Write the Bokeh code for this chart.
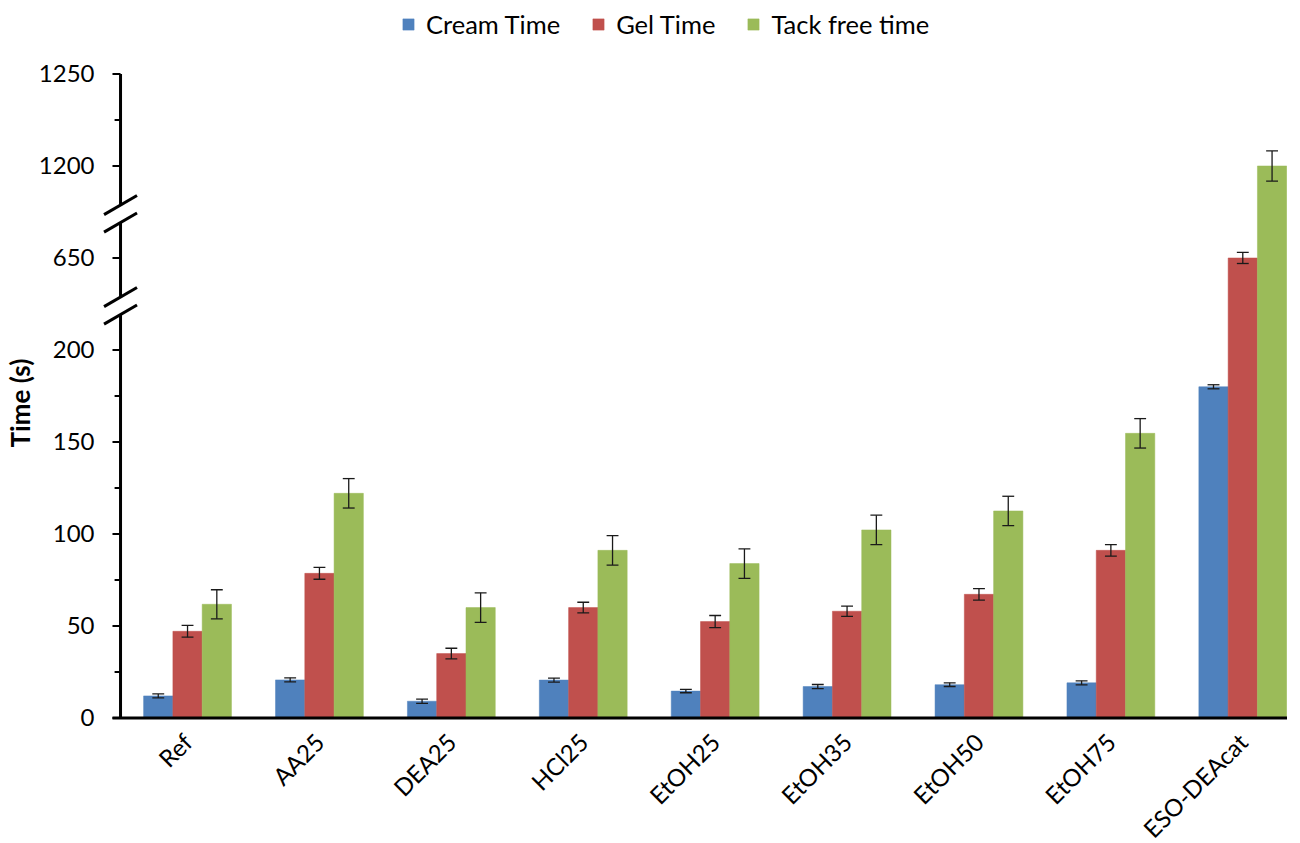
import math
from bokeh.plotting import figure
from bokeh.models import FixedTicker, Legend, LegendItem, Range1d
from bokeh.embed import file_html
from bokeh.resources import INLINE

# ---------------- data ----------------
categories = ["Ref", "AA25", "DEA25", "HCl25", "EtOH25", "EtOH35", "EtOH50", "EtOH75", "ESO-DEAcat"]
cream = [12.0, 20.7, 9.1, 20.6, 14.6, 17.1, 18.1, 19.1, 180.0]
gel = [47.1, 78.6, 35.0, 60.0, 52.4, 58.0, 67.2, 91.1, 650.0]
tack = [61.8, 122.1, 60.0, 91.1, 83.9, 102.2, 112.5, 154.7, 1200.0]
cream_err = [1.1, 1.1, 1.2, 1.1, 0.9, 1.1, 1.0, 1.1, 1.1]
gel_err = [3.2, 3.2, 2.9, 2.9, 3.3, 2.8, 3.1, 3.1, 3.0]
tack_err = [7.9, 8.0, 8.0, 8.0, 8.0, 8.0, 8.0, 8.0, 8.2]
series_names = ["Cream Time", "Gel Time", "Tack free time"]
major_ticks = [0, 50, 100, 150, 200, 650, 1200, 1250]
minor_ticks = [25, 75, 125, 175, 1225]
y_title = "Time (s)"

colors = ["#4F81BD", "#C0504D", "#9BBB59"]
FONT = "Lato"

# broken axis segments: (value low, value high, shift subtracted to get display coordinate)
SEGMENTS = [(0, 224, 0), (624, 674, 400), (1174, 1250, 900)]
BREAKS = [224, 274]  # display positions of the breaks


def to_disp(v):
    for lo, hi, shift in SEGMENTS:
        if lo <= v <= hi:
            return v - shift
    raise ValueError(v)


FRAME_H = 723
Y0, Y1 = -3, FRAME_H / 1.84 - 3
X0, X1 = -0.675, 8.339

p = figure(frame_width=1189, frame_height=FRAME_H, min_border_left=95, min_border_right=0,
           min_border_top=0, min_border_bottom=0,
           x_range=Range1d(X0, X1), y_range=Range1d(Y0, Y1),
           output_backend="svg", toolbar_location=None)
p.outline_line_color = None
p.grid.grid_line_color = None
p.background_fill_color = "white"
p.border_fill_color = "white"

BAR_W = 0.222
CAP = 0.045
renderers = []
for k, (vals, errs) in enumerate(zip([cream, gel, tack], [cream_err, gel_err, tack_err])):
    xs = [i + (k - 1) * BAR_W for i in range(len(categories))]
    tops = [to_disp(v) for v in vals]
    r = p.vbar(x=xs, top=tops, bottom=0, width=BAR_W, fill_color=colors[k],
               line_color=colors[k], line_width=0.5)
    renderers.append(r)
    lo = [to_disp(v - e) for v, e in zip(vals, errs)]
    hi = [to_disp(v + e) for v, e in zip(vals, errs)]
    p.segment(x0=xs, x1=xs, y0=lo, y1=hi, line_color="#1a1a1a", line_width=1.3)
    p.segment(x0=[x - CAP for x in xs], x1=[x + CAP for x in xs], y0=lo, y1=lo,
              line_color="#1a1a1a", line_width=1.3)
    p.segment(x0=[x - CAP for x in xs], x1=[x + CAP for x in xs], y0=hi, y1=hi,
              line_color="#1a1a1a", line_width=1.3)

# ---- hand-drawn axes (broken y axis) ----
AXIS_X = -0.508
TICK_MAJ = 0.061
TICK_MIN = 0.045
GAP = 4.75
top_disp = to_disp(major_ticks[-1])
ys0 = [0] + [b + GAP for b in BREAKS]
ys1 = [b - GAP for b in BREAKS] + [top_disp]
p.segment(x0=[AXIS_X] * 3, x1=[AXIS_X] * 3, y0=ys0, y1=ys1, line_color="black", line_width=3)
# break marks
bx0, bx1, by0, by1 = [], [], [], []
for b in BREAKS:
    for s in (-GAP, GAP):
        bx0.append(AXIS_X - 0.125)
        bx1.append(AXIS_X + 0.125)
        by0.append(b + s - 5.2)
        by1.append(b + s + 5.2)
p.segment(x0=bx0, x1=bx1, y0=by0, y1=by1, line_color="black", line_width=3)
# ticks
mt = [to_disp(t) for t in major_ticks]
p.segment(x0=[AXIS_X - TICK_MAJ] * len(mt), x1=[AXIS_X] * len(mt), y0=mt, y1=mt,
          line_color="black", line_width=2)
nt = [to_disp(t) for t in minor_ticks]
p.segment(x0=[AXIS_X - TICK_MIN] * len(nt), x1=[AXIS_X] * len(nt), y0=nt, y1=nt,
          line_color="black", line_width=2)
# x axis line
p.segment(x0=[AXIS_X - TICK_MAJ], x1=[X1], y0=[0], y1=[0], line_color="black", line_width=3)

# ---- bokeh axes used for labels only ----
ya = p.yaxis[0]
ya.ticker = FixedTicker(ticks=mt)
ya.major_label_overrides = {d: str(t) for d, t in zip(mt, major_ticks)}
ya.axis_line_color = None
ya.major_tick_line_color = None
ya.minor_tick_line_color = None
ya.major_tick_out = 0
ya.major_tick_in = 0
ya.major_label_standoff = 4
ya.major_label_text_font = FONT
ya.major_label_text_font_size = "24px"
ya.major_label_text_color = "black"
# trailing no-break spaces push the centred title down to the middle of the axis
ya.axis_label = y_title + "\u00a0" * 13
ya.axis_label_text_font = FONT
ya.axis_label_text_font_size = "26px"
ya.axis_label_text_font_style = "bold"
ya.axis_label_text_color = "black"
ya.axis_label_standoff = 0

xa = p.xaxis[0]
xa.ticker = FixedTicker(ticks=list(range(len(categories))))
xa.major_label_overrides = {i: c for i, c in enumerate(categories)}
xa.major_label_orientation = math.pi / 4
xa.axis_line_color = None
xa.major_tick_line_color = None
xa.minor_tick_line_color = None
xa.major_tick_out = 0
xa.major_tick_in = 0
xa.major_label_standoff = 14
xa.major_label_text_font = FONT
xa.major_label_text_font_size = "24px"
xa.major_label_text_color = "black"

legend = Legend(items=[LegendItem(label=n, renderers=[r]) for n, r in zip(series_names, renderers)],
                orientation="horizontal", location=(303, 684), margin=0, padding=0,
                spacing=31, label_standoff=11, glyph_width=14, glyph_height=14,
                label_text_font=FONT, label_text_font_size="25.5px", label_text_color="black",
                border_line_color=None, background_fill_alpha=0)
p.add_layout(legend, "center")

open("out.html", "w").write(file_html(p, INLINE))
